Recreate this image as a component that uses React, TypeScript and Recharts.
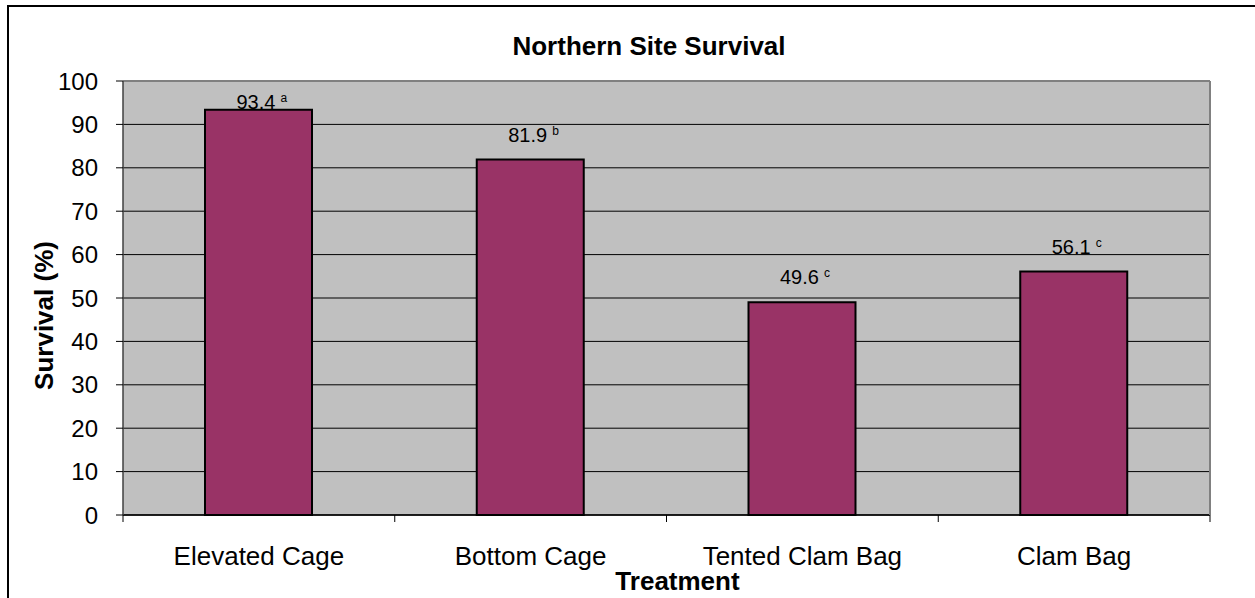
import React from "react";
import {
  BarChart,
  Bar,
  XAxis,
  YAxis,
  CartesianGrid,
  ReferenceLine,
  LabelList,
} from "recharts";

const categories = ["Elevated Cage", "Bottom Cage", "Tented Clam Bag", "Clam Bag"];
const survival = [93.4, 81.9, 49.0, 56.1];
const labelValues = ["93.4", "81.9", "49.6", "56.1"];
const groupLetters = ["a", "b", "c", "c"];
const yTicks = [0, 10, 20, 30, 40, 50, 60, 70, 80, 90, 100];

const W = 1255;
const H = 598;
const PLOT_LEFT = 123;
const PLOT_RIGHT = 1210;
const PLOT_TOP = 81;
const PLOT_BOTTOM = 515;
const FONT = "'Liberation Sans', Arial, Helvetica, sans-serif";

const data = categories.map((name, i) => ({ name, survival: survival[i] }));

const CatTick = (props: any) => {
  const { x, payload } = props;
  const idx = categories.indexOf(payload.value);
  const bw = (PLOT_RIGHT - PLOT_LEFT) / categories.length;
  const left = x - bw / 2;
  return (
    <g>
      <line x1={left} x2={left} y1={PLOT_BOTTOM} y2={PLOT_BOTTOM + 7} stroke="#000" strokeWidth={1} />
      {idx === categories.length - 1 && (
        <line x1={x + bw / 2} x2={x + bw / 2} y1={PLOT_BOTTOM} y2={PLOT_BOTTOM + 7} stroke="#000" strokeWidth={1} />
      )}
      <text x={x} y={PLOT_BOTTOM + 49.5} textAnchor="middle" fontSize={26} fontFamily={FONT} fill="#000">
        {payload.value}
      </text>
    </g>
  );
};

const ValueLabel = (props: any) => {
  const { x, y, width, index } = props;
  const cx = Number(x) + Number(width) / 2;
  const base = Math.max(Number(y) - 18, PLOT_TOP + 28);
  return (
    <text x={cx - 22} y={base} fontSize={20} fontFamily={FONT} fill="#000" textAnchor="start">
      {labelValues[index]}
      <tspan fontSize={12} dx={5} dy={-7}>
        {groupLetters[index]}
      </tspan>
    </text>
  );
};

export default function App() {
  return (
    <div
      style={{
        position: "absolute",
        left: 0,
        top: 0,
        width: W,
        height: H,
        overflow: "hidden",
        background: "#fff",
      }}
    >
      <div
        style={{
          position: "absolute",
          left: 7,
          top: 5,
          width: 1400,
          height: 800,
          borderLeft: "2px solid #000",
          borderTop: "2px solid #000",
        }}
      />
      <div style={{ position: "absolute", left: 0, top: 0 }}>
        <BarChart
          width={W}
          height={H}
          data={data}
          margin={{ top: PLOT_TOP, right: W - PLOT_RIGHT - 1, bottom: H - PLOT_BOTTOM - 40, left: PLOT_LEFT - 60 }}
        >
          <CartesianGrid yAxisId="l" vertical={false} fill="#C0C0C0" stroke="#000" strokeWidth={1} />
          <XAxis
            dataKey="name"
            yAxisId="l"
            height={40}
            interval={0}
            tickLine={false}
            tickSize={0}
            axisLine={{ stroke: "#000", strokeWidth: 1.5 }}
            tick={<CatTick />}
          />
          <YAxis
            yAxisId="l"
            domain={[0, 100]}
            ticks={yTicks}
            interval={0}
            width={60}
            tickSize={7}
            tickMargin={18}
            axisLine={{ stroke: "#404040", strokeWidth: 1.5 }}
            tickLine={{ stroke: "#000" }}
            tick={{ fontSize: 24, fill: "#000", fontFamily: FONT }}
          />
          <YAxis
            yAxisId="r"
            orientation="right"
            domain={[0, 100]}
            width={1}
            tick={false}
            tickLine={false}
            axisLine={{ stroke: "#808080", strokeWidth: 2 }}
          />
          <ReferenceLine yAxisId="l" y={100} stroke="#808080" strokeWidth={2} />
          <Bar
            yAxisId="l"
            dataKey="survival"
            fill="#993366"
            stroke="#000"
            strokeWidth={2}
            barSize={107}
            isAnimationActive={false}
          >
            <LabelList dataKey="survival" content={<ValueLabel />} />
          </Bar>
        </BarChart>
      </div>
      <svg
        width={W}
        height={H}
        style={{ position: "absolute", left: 0, top: 0, pointerEvents: "none" }}
      >
        <text x={649} y={55} textAnchor="middle" fontSize={26} fontWeight="bold" fontFamily={FONT} fill="#000">
          Northern Site Survival
        </text>
        <text
          x={53}
          y={315.5}
          transform="rotate(-90 53 315.5)"
          textAnchor="middle"
          fontSize={26}
          fontWeight="bold"
          fontFamily={FONT}
          fill="#000"
        >
          Survival (%)
        </text>
        <text x={677.5} y={590} textAnchor="middle" fontSize={26} fontWeight="bold" fontFamily={FONT} fill="#000">
          Treatment
        </text>
      </svg>
    </div>
  );
}
